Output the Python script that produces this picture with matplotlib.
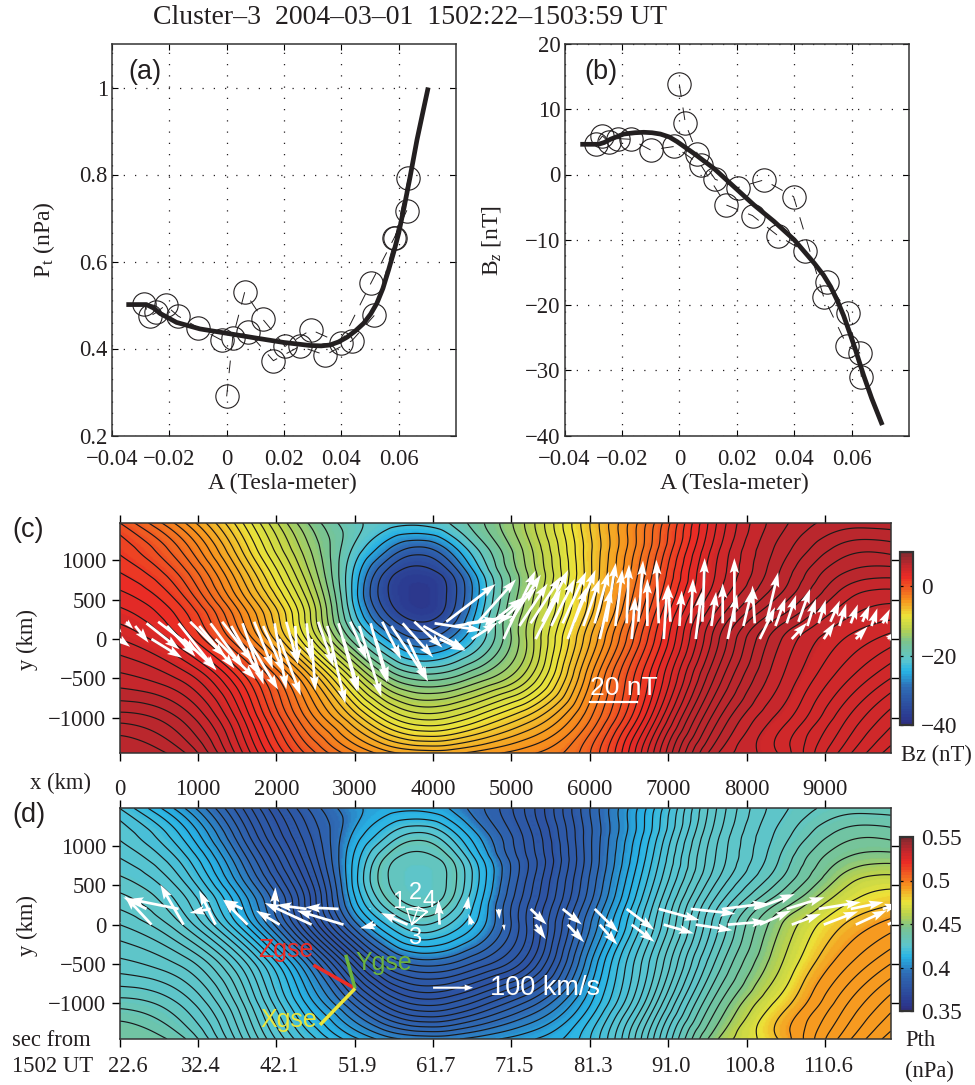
import numpy as np
import matplotlib
matplotlib.use('Agg')
import matplotlib.pyplot as plt
from matplotlib.colors import LinearSegmentedColormap, ListedColormap
from matplotlib.tri import Triangulation, CubicTriInterpolator

plt.rcParams['font.family'] = ['Liberation Serif', 'DejaVu Serif']
plt.rcParams['mathtext.fontset'] = 'custom'
plt.rcParams['mathtext.rm'] = 'Liberation Serif'
plt.rcParams['mathtext.it'] = 'Liberation Serif:italic'

# scatter points in time order, same A for panels a and b
a_points = [0, .0021, .0063, .0125, .0204, .0294, .0398, .0503, .0585, .0628, .0634, .0588, .0515,
            .0437, .0344, .0255, .0163, .0075, -.0017, -.01, -.017, -.0213, -.0245, -.0268, -.0289]
pt_points = [.290, .424, .530, .468, .405, .443, .412, .550, .655, .717, .792, .655, .476,
             .418, .385, .405, .372, .4375, .419, .448, .475, .4996, .483, .474, .503]
bz_points = [13.8, 7.84, 3.15, -.74, -2.0, -.84, -3.4, -18.8, -26.3, -27.3, -31.1, -21.2, -16.4,
             -11.8, -9.4, -6.3, -4.67, 1.46, 4.3, 3.76, 5.4, 5.5, 5.0, 5.9, 4.7]

# thick fit curves
a_pt_fit = [-.035, -.028, -.0255, -.0233, -.0175, -.0093, 0, .0093, .0198, .029, .033, .036, .039, .042, .045,
            .0478, .0502, .0524, .0545, .0565, .0583, .06, .062, .064, .0664, .0685, .0703]
pt_fit = [.501, .501, .493, .481, .46, .445, .435, .425, .414, .407, .406, .408, .415, .426, .441,
          .458, .479, .504, .538, .581, .622, .665, .728, .795, .88, .945, 1.0]
a_bz_fit = [-.0345, -.0282, -.0262, -.024, -.0194, -.0155, -.0124, -.0095, -.0066, -.0035, -.0008, .005, .012, .019, .026, .033, .04,
            .047, .0502, .0527, .055, .0572, .0593, .0613, .0642, .067, .0707]
bz_fit = [4.63, 4.63, 4.9, 5.4, 6.2, 6.4, 6.47, 6.4, 6.2, 5.75, 5.04, 3.25, .95, -1.86, -4.67, -7.2, -10,
          -13.6, -15.4, -17.2, -19.3, -21.6, -24.2, -26.8, -30.8, -34.3, -38.4]

grid_x = [0, 800, 1600, 2400, 3000, 3400, 3800, 4200, 4600, 5200, 6000, 6800, 7600, 8400, 9200, 9837]
grid_y = [-1456, -1000, -500, 0, 300, 570, 850, 1150, 1481]
a_row_m1456 = [-.0155, -.0125, .0005, .0145, .0215, .025, .0265, .0265, .025, .0225, .0161, -.0017, -.0195, -.026, -.0365, -.043]
a_row_m1000 = [-.011, -.0075, .0045, .0205, .0305, .037, .0405, .040, .037, .0315, .0203, .0033, -.015, -.0245, -.033, -.039]
a_row_m500 = [-.0047, -.0015, .0095, .0265, .041, .049, .0525, .052, .049, .0425, .0243, .007, -.0103, -.0215, -.029, -.034]
a_row_0 = [0, .006, .0198, .0385, .0532, .060, .064, .062, .057, .0458, .0282, .0106, -.007, -.0195, -.0258, -.0289]
a_row_300 = [.003, .009, .023, .041, .0575, .0655, .0691, .0664, .0585, .0465, .0305, .0125, -.0045, -.0155, -.0232, -.0254]
a_row_570 = [.0055, .012, .0265, .043, .059, .0676, .0703, .0676, .0597, .0477, .0317, .0145, -.0015, -.0117, -.0206, -.0228]
a_row_850 = [.008, .015, .0295, .0455, .0585, .0663, .069, .0663, .0585, .048, .0325, .016, 0, -.0098, -.0177, -.019]
a_row_1150 = [.0105, .0185, .033, .0475, .0565, .0615, .0645, .0615, .0555, .047, .0325, .0175, .001, -.0085, -.0147, -.0151]
a_row_1481 = [.014, .0235, .0365, .05, .0555, .057, .0575, .056, .0525, .0455, .032, .0185, .0023, -.0071, -.011, -.0108]

# spacecraft positions, km
sc_x = [0, 408, 817, 1225, 1633, 2042, 2450, 2858, 3267, 3675, 4083, 4492, 4900,
        5308, 5717, 6125, 6533, 6942, 7350, 7758, 8167, 8575, 8983, 9392, 9800]
sc1_off = (-64, 200)
sc2_off = (85, 220)
sc3_off = (0, 0)
sc4_off = (200, 166)

# magnetic field vectors, nT
b1_u = [3, 14, 16, 14, 9, 5, 2, 8, 7, 13, 20, 20, 16, 13, 10, 6, 1, -1, 1, 0, -1, 4, 3, 3, 3]
b1_v = [-4, -11, -20, -19, -26, -28, -16, -29, -25, -14.5, -3, 3, 15, 20, 22, 22, 25, 27, 19, 17, 16, 12, 10, 8, 6]
b2_u = [3, 17, 15, 13, 8, 5, 6.5, 7, 8, 12, 21, 16, 13, 11, 9, 4, 2, -1, 1, 0, 5, 5, 4, 3, 3]
b2_v = [-3, -13, -15, -17, -20, -18, -19, -16, -16, -11, 16, 18, 20, 22, 22, 25, 26, 16, 27, 27, 21, 14, 9, 7, 5]
b3_u = [4.5, 13, 14, 17, 13, 9, 1.6, 6.5, 5.5, 8.5, 11, 11, 13.5, 10.7, 8, 5, 1.5, 1.5, 2.5, 4, 6.5, 6.5, 4.7, 5, 3]
b3_v = [-3.3, -8, -13, -17, -21.5, -24, -22, -22, -18, -18, -5, 7, 29, 21, 22, 21.5, 18, 22.5, 20, 19, 13.5, 7, 7, 5.3, 3]
b4_u = [5.7, 12, 15, 12, 9, 1, 7.7, 9.4, 15.6, 18, 18.5, 15, 12, 10, 7, 3, 0, 1, 2, 3.7, 4.3, 3.6, 2.9, 2.5, 2]
b4_v = [-7.1, -13, -18, -21, -20, -16, -33, -30, -23.4, -10, 3, 12, 18, 20, 20, 24, 20, 15, 14.5, 15.5, 12, 11.5, 9.5, 7.5, 5]

# ion velocity vectors, km/s
v1_u = [-50, -58, -125, -52, -48, 2, -75, -83, -4, -2, -2, 5, 2, 40, 48, 59, 69, 102, 112, 112, 100, 94, 105, 82, 42]
v1_v = [20, 29, 25, -10, 23, 54, 10, 4, 2, 2, 2, 32, -25, -39, -39, -58, -52, -28, -12, 14, 37, 29, 17, 17, 12]
v3_u = [-20, -67, -58, -41, -61, -59, -117, -117, -39, -67, -3, -8, 2, 25, 41, 44, 57, 75, 92, 98, 78, 73, 86, 78, 50]
v3_v = [10, 72, 100, 85, 62, 35, 54, 35, -9, 29, 62, 27, -15, -36, -44, -50, -43, -22, -14, 8, 35, 27, 33, 36, 25]

pt_ticks = [.2, .4, .6, .8, 1]
pt_tick_labels = ['0.2', '0.4', '0.6', '0.8', '1']
bz_ticks = [-40, -30, -20, -10, 0, 10, 20]
bz_tick_labels = ['\u221240', '\u221230', '\u221220', '\u221210', '0', '10', '20']
a_ticks = [-.04, -.02, 0, .02, .04, .06]
a_tick_labels = ['\u22120.04', '\u22120.02', '0', '0.02', '0.04', '0.06']
map_x_ticks = [0, 1000, 2000, 3000, 4000, 5000, 6000, 7000, 8000, 9000]
map_x_labels_c = ['0', '1000', '2000', '3000', '4000', '5000', '6000', '7000', '8000', '9000']
map_x_labels_d = ['22.6', '32.4', '42.1', '51.9', '61.7', '71.5', '81.3', '91.0', '100.8', '110.6']
map_y_ticks = [-1000, -500, 0, 500, 1000]
map_y_labels = ['\u22121000', '\u2212500', '0', '500', '1000']

W, H = 975, 1085
TICK = 16.3
SANS = ['Liberation Sans', 'DejaVu Sans']
INK = '#231f20'


def box(l, t, r, b):
    return [l / W, 1 - b / H, (r - l) / W, (b - t) / H]


def label(x, y, s, **kw):
    kw.setdefault('fontsize', TICK)
    kw.setdefault('color', INK)
    kw.setdefault('va', 'center')
    fig.text(x / W, 1 - y / H, s, **kw)


def line_panel(rect, a_fit, y_fit, y_pts, ylim, yticks, ylabels):
    ax = fig.add_axes(box(*rect))
    ax.plot(a_points, y_pts, color=INK, lw=0.7, ls=(0, (13, 11)), marker='o', ms=16.8,
            mfc='none', mec=INK, mew=0.8)
    ax.plot(a_fit, y_fit, color=INK, lw=3.4, solid_capstyle='butt')
    ax.set_xlim(-.04, .08)
    ax.set_ylim(*ylim)
    ax.set_xticks(a_ticks, a_tick_labels)
    ax.set_yticks(yticks, ylabels)
    ax.grid(True, color=INK, lw=0.9, ls=(0, (1, 8)))
    ax.tick_params(direction='in', length=4, width=0.8, top=True, right=True, labelsize=TICK,
                   labelcolor=INK, pad=3)
    ax.tick_params(axis='x', pad=10)
    for s in ax.spines.values():
        s.set_linewidth(1.1)
        s.set_color('#333333')
    return ax


fig = plt.figure(figsize=(W / 100, H / 100), dpi=100)

label(410, 18, 'Cluster\u20133  2004\u201303\u201301  1502:22\u20131503:59 UT', ha='center', fontsize=20)

ax_a = line_panel((112, 44, 456, 435.5), a_pt_fit, pt_fit, pt_points, (.2, 1.1), pt_ticks, pt_tick_labels)
ax_b = line_panel((564.5, 44, 909, 435.5), a_bz_fit, bz_fit, bz_points, (-40, 20), bz_ticks, bz_tick_labels)
label(282, 483, 'A (Tesla-meter)', ha='center', fontsize=17)
label(734, 483, 'A (Tesla-meter)', ha='center', fontsize=17)
label(44, 240, 'P$_{\\mathrm{t}}$ (nPa)', ha='center', rotation=90, fontsize=17)
label(492, 240, 'B$_{z}$ [nT]', ha='center', rotation=90, fontsize=17)
label(128, 72, '(a)', family=SANS, fontsize=19.5)
label(584, 72, '(b)', family=SANS, fontsize=19.5)

# map fields
gx, gy = np.meshgrid(grid_x, grid_y)
a_grid = np.array([a_row_m1456, a_row_m1000, a_row_m500, a_row_0, a_row_300, a_row_570, a_row_850,
                   a_row_1150, a_row_1481])
tri = Triangulation(gx.ravel(), gy.ravel())
interp = CubicTriInterpolator(tri, a_grid.ravel(), kind='min_E')
fx, fy = np.meshgrid(np.linspace(0, 9837, 500), np.linspace(-1456, 1481, 240))
a_map = np.ma.filled(interp(fx, fy), np.nan)
bz_map = np.interp(a_map, a_bz_fit, bz_fit)
# plasma pressure from the two fit curves: Pth = Pt - Bz^2 / 2mu0, in nPa and nT
pth_map = np.interp(a_map, a_pt_fit, pt_fit) - 3.979e-4 * bz_map ** 2

colors = [(0, '#2e2f80'), (.04, '#2b3a90'), (.21, '#2f6cb5'), (.31, '#27b4e6'), (.37, '#5bc5cf'),
          (.48, '#7cc48d'), (.56, '#bcd34c'), (.63, '#ece53a'), (.72, '#f7941e'), (.86, '#ea2b25'),
          (.93, '#c1272d'), (1, '#7f2a30')]
cmap = ListedColormap(LinearSegmentedColormap.from_list('bar', colors)(np.linspace(0, 1, 64)))
levels = np.arange(-.044, .0685, .002)


def map_panel(top, field, vmin, vmax):
    ax = fig.add_axes(box(119.5, top, 890.7, top + 230.7))
    pm = ax.pcolormesh(fx, fy, field, cmap=cmap, vmin=vmin, vmax=vmax, shading='gouraud', rasterized=True)
    ax.contour(fx, fy, a_map, levels=levels, colors='#1a1a1a', linewidths=0.85, linestyles='solid')
    ax.set_xlim(0, 9837)
    ax.set_ylim(-1456, 1481)
    ax.set_yticks(map_y_ticks, map_y_labels)
    ax.tick_params(direction='out', length=5.5, width=1, top=True, right=True, labelsize=TICK,
                   labelcolor=INK, pad=4)
    for s in ax.spines.values():
        s.set_linewidth(1.1)
        s.set_color('#333333')
    return ax, pm


def arrows(ax, off, u, v, scale):
    ax.quiver(np.array(sc_x) + off[0], np.full(25, off[1]), u, v, angles='xy', scale_units='xy',
              scale=scale, color='white', units='dots', width=2.7, headwidth=3.4, headlength=5.5,
              headaxislength=4.8, minlength=0.2, zorder=5)


def color_bar(pm, top, bottom, ticks, labels):
    cax = fig.add_axes(box(900, top, 913, bottom))
    cb = fig.colorbar(pm, cax=cax)
    cb.set_ticks(ticks, labels=labels)
    cax.tick_params(direction='in', length=2.5, width=0.9, left=True, right=True, labelsize=TICK + 0.5,
                    labelcolor=INK, pad=6)
    cb.outline.set_linewidth(1.6)
    cb.outline.set_edgecolor('#333333')


# panel c
ax_c, pm_c = map_panel(522.7, bz_map, -40, 10)
ax_c.set_xticks(map_x_ticks, map_x_labels_c)
ax_c.tick_params(axis='x', pad=13)
for off, u, v in [(sc1_off, b1_u, b1_v), (sc2_off, b2_u, b2_v), (sc3_off, b3_u, b3_v), (sc4_off, b4_u, b4_v)]:
    arrows(ax_c, off, u, v, 1 / 30)
ax_c.plot([6000, 6600], [-803, -803], color='white', lw=1.6)
ax_c.text(6000, -620, '20 nT', color='white', family=SANS, fontsize=19, va='center')
color_bar(pm_c, 551.7, 725, [-40, -20, 0], ['\u221240', '\u221220', '0'])
label(12, 530, '(c)', family=SANS, fontsize=19.5)
label(27, 640, 'y (km)', ha='center', rotation=90)
label(30, 783, 'x (km)')
label(901, 755, 'Bz (nT)')

# panel d
ax_d, pm_d = map_panel(808.3, pth_map, .35, .55)
ax_d.set_xticks(map_x_ticks, [])
for t, s in zip(map_x_ticks, map_x_labels_d):
    ax_d.annotate(s, (t, 0), xycoords=('data', 'axes fraction'), xytext=(8 if t == 0 else 3, -28),
                  textcoords='offset pixels', ha='center', va='center', fontsize=TICK, color=INK)
arrows(ax_d, sc1_off, v1_u, v1_v, 1 / 5.1)
arrows(ax_d, sc3_off, v3_u, v3_v, 1 / 5.1)
ax_d.quiver([4000], [-803], [100], [0], angles='xy', scale_units='xy', scale=1 / 5.1, color='white',
            units='dots', width=2.1, headwidth=3, headlength=4, headaxislength=4, zorder=5)
ax_d.text(4727, -803, '100 km/s', color='white', family=SANS, fontsize=19.5, va='center')
# GSE axes
ax_d.plot([3005, 2473], [-813, -514], color='#ed2c25', lw=2.5, solid_capstyle='butt')
ax_d.plot([3005, 2886], [-813, -385], color='#6cb33f', lw=2.5, solid_capstyle='butt')
ax_d.plot([3005, 2558], [-813, -1276], color='#ece53a', lw=2.5, solid_capstyle='butt')
ax_d.text(1770, -325, 'Zgse', color='#ed2c25', family=SANS, fontsize=18, va='center')
ax_d.text(3010, -490, 'Ygse', color='#6cb33f', family=SANS, fontsize=18, va='center')
ax_d.text(1800, -1210, 'Xgse', color='#ece53a', family=SANS, fontsize=18, va='center')
# tetrahedron
tx = [3664, 3813, 3728, 3664, 3928, 3728, 3928, 3813]
ty = [200, 221, 0, 200, 166, 0, 166, 221]
ax_d.plot(tx, ty, color='white', lw=1, zorder=6)
ax_d.text(3558, 285, '1', color='white', family=SANS, fontsize=17, ha='center', va='center')
ax_d.text(3780, 404, '2', color='white', family=SANS, fontsize=17, ha='center', va='center')
ax_d.text(3950, 297, '4', color='white', family=SANS, fontsize=17, ha='center', va='center')
ax_d.text(3762, -175, '3', color='white', family=SANS, fontsize=17, ha='center', va='center')
color_bar(pm_d, 837, 1011, [.35, .4, .45, .5, .55], ['0.35', '0.4', '0.45', '0.5', '0.55'])
label(12, 815, '(d)', family=SANS, fontsize=19.5)
label(27, 925, 'y (km)', ha='center', rotation=90)
label(12, 1040, 'sec from')
label(12, 1067, '1502 UT')
label(905, 1041, 'Pth')
label(905, 1071, '(nPa)')

fig.savefig('out.png', dpi=100)
